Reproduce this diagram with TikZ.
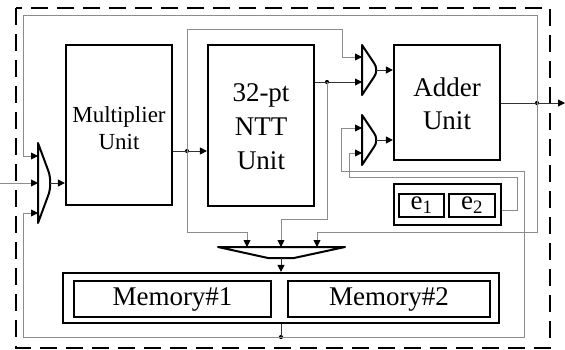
\documentclass[tikz,border=0pt]{standalone}
\usepackage{fontspec}
\setmainfont{Liberation Serif}
\usetikzlibrary{arrows.meta}
\begin{document}
\begin{tikzpicture}[x=1pt,y=-1pt]
\tikzset{
  unit/.style={draw, line width=2.2pt, inner sep=0pt},
  cell/.style={draw, line width=2pt, inner sep=0pt, font=\fontsize{27}{32}\selectfont},
  muxshape/.style={draw, line width=2pt, line join=round, fill=white},
  wire/.style={draw=black!45, line width=0.9pt},
  dwire/.style={draw=black!80, line width=0.9pt},
  tip/.style={-{Triangle[length=7pt,width=7pt,color=black]}},
  jdot/.style={circle, fill=black, inner sep=0pt, minimum size=4.2pt},
  outerbox/.style={draw, line width=2pt, dash pattern=on 17pt off 9pt},
  big/.style={align=center, inner sep=0pt, font=\fontsize{27}{34}\selectfont},
}
\useasboundingbox (0,0) rectangle (565,349);

% dashed boundary of the accelerator
\draw[outerbox] (16,8) rectangle (550,348);

% functional units
\node[unit, minimum width=106pt, minimum height=160pt] (mult) at (119,125) {};
\node[unit, minimum width=106pt, minimum height=161pt] (ntt) at (261,125.5) {};
\node[unit, minimum width=106pt, minimum height=115pt] (adder) at (447,102.5) {};
\node[big, font=\fontsize{23}{27}\selectfont] (multtxt) at (119,128) {Multiplier\\Unit};
\node[big] (ntttxt) at (261,127) {32-pt\\NTT\\Unit};
\node[big, font=\fontsize{27}{33}\selectfont] (addtxt) at (447,104) {Adder\\Unit};

% constant registers
\node[unit, line width=2pt, minimum width=107pt, minimum height=41pt] (ebox) at (447.5,204.5) {};
\node[cell, minimum width=45pt, minimum height=23pt] (e1) at (421.5,205.5) {e\textsubscript{1}};
\node[cell, minimum width=46pt, minimum height=23pt] (e2) at (472,205.5) {e\textsubscript{2}};

% memory banks
\node[unit, minimum width=436pt, minimum height=50pt] (mem) at (281,298) {};
\node[cell, minimum width=197pt, minimum height=36pt] (mem1) at (172.5,299) {Memory\#1};
\node[cell, minimum width=202pt, minimum height=36pt] (mem2) at (389,299) {Memory\#2};

% multiplexers
\draw[muxshape] (38,143) -- (48,170) .. controls (51,177) and (51,189) .. (48,196) -- (38,223) -- cycle;
\draw[muxshape] (362,45) -- (374,63) .. controls (377,67) and (377,73) .. (374,77) -- (362,95) -- cycle;
\draw[muxshape] (362,115) -- (374,133) .. controls (377,137) and (377,143) .. (374,147) -- (362,165) -- cycle;
\draw[muxshape] (218,247) -- (345,247) -- (294,258) -- (268,258) -- cycle;

% multiplexer ports
\coordinate (inn1) at (38,156);
\coordinate (inn2) at (38,183);
\coordinate (inn3) at (38,213);
\coordinate (inout) at (50,183);
\coordinate (ain1) at (362,57);
\coordinate (ain2) at (362,82);
\coordinate (aout) at (376,70);
\coordinate (bin1) at (362,128);
\coordinate (bin2) at (362,153);
\coordinate (bout) at (376,140);
\coordinate (min1) at (247,247);
\coordinate (min2) at (281,247);
\coordinate (min3) at (317,247);
\coordinate (mout) at (281,258);
\coordinate (extin) at (0,183);
\coordinate (extout) at (565,103);

% junctions
\node[jdot] (jmul) at (187,151) {};
\node[jdot] (jntt) at (327,82) {};
\node[jdot] (jadd) at (537,103) {};
\node[jdot] (jmem) at (281,337) {};

% data paths
\draw[wire, tip] (extin) -- (inn2);
\draw[dwire, tip] (inout) -- (mult.west |- inout);
\draw[dwire, tip] (mult.east |- jmul) -- (ntt.west |- jmul);
\draw[wire, tip] (jmul.center) -- (187,29) -- (342,29) |- (ain1);
\draw[wire, tip] (jmul.center) -- (187,232) -| (min1);
\draw[dwire, tip] (ntt.east |- jntt) -- (ain2);
\draw[wire, tip] (jntt.center) -- (327,219) -| (min2);
\draw[dwire, tip] (aout) -- (adder.west |- aout);
\draw[dwire, tip] (bout) -- (adder.west |- bout);
\draw[dwire] (adder.east |- jadd) -- (jadd.center);
\draw[dwire, tip] (jadd.center) -- (extout);
\draw[wire, tip] (jadd.center) -- (537,15) -| (23,156) -- (inn1);
\draw[wire, tip] (jadd.center) -- (537,232) -| (min3);
\draw[dwire, tip] (mout) -- (mem.north);
\draw[dwire] (mem.south) -- (jmem.center);
\draw[wire, tip] (jmem.center) -- (23,337) |- (inn3);
\draw[wire, tip] (jmem.center) -| (524,171) -| (341,128) -- (bin1);
\draw[wire, tip] ([yshift=-6pt]ebox.east) -| (517,177) -| (349,153) -- (bin2);
\end{tikzpicture}
\end{document}
